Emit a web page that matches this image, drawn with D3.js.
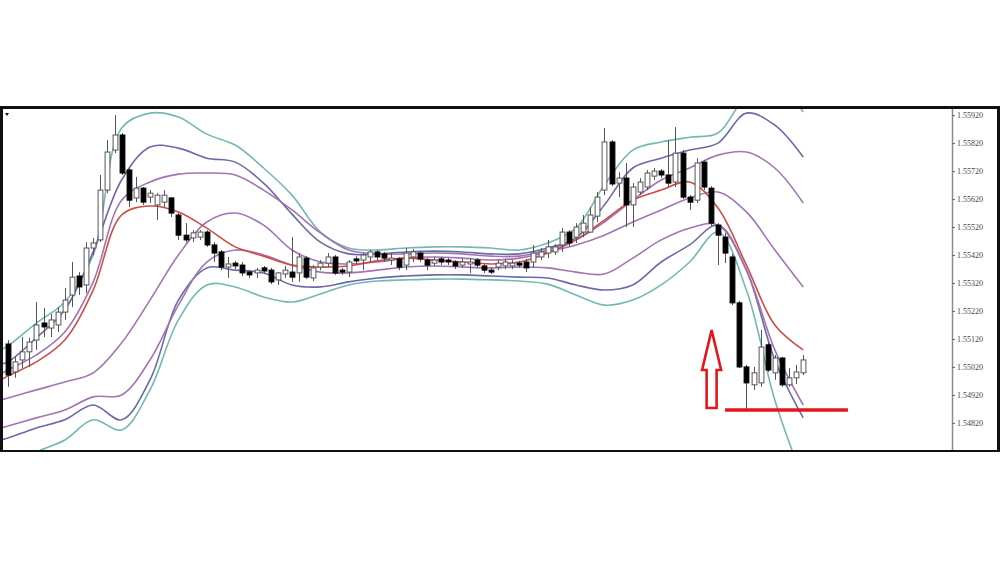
<!DOCTYPE html>
<html><head><meta charset="utf-8">
<script src="https://cdn.jsdelivr.net/npm/d3@7"></script>
<style>body{margin:0;background:#fff}svg{display:block}</style>
</head><body>
<svg id="c" width="1000" height="562"></svg>
<script>
// ---- candle data (bar index 0..112) ----
const opens = [1.55102,1.55002,1.55045,1.55074,1.55116,1.55177,1.55159,1.55170,1.55216,1.55277,1.55345,1.55313,1.55445,1.55474,1.55652,1.55795,1.55849,1.55724,1.55624,1.55659,1.55627,1.55599,1.55609,1.55624,1.55563,1.55491,1.55481,1.55484,1.55502,1.55456,1.55431,1.55377,1.55391,1.55384,1.55359,1.55356,1.55374,1.55366,1.55331,1.55352,1.55359,1.55356,1.55409,1.55338,1.55377,1.55391,1.55413,1.55366,1.55359,1.55406,1.55402,1.55413,1.55431,1.55424,1.55402,1.55406,1.55384,1.55413,1.55427,1.55402,1.55391,1.55406,1.55402,1.55395,1.55384,1.55388,1.55402,1.55381,1.55366,1.55377,1.55381,1.55381,1.55391,1.55395,1.55395,1.55413,1.55427,1.55431,1.55456,1.55502,1.55484,1.55502,1.55502,1.55559,1.55652,1.55824,1.55677,1.55695,1.55599,1.55645,1.55663,1.55702,1.55720,1.55706,1.55681,1.55784,1.55627,1.55616,1.55752,1.55659,1.55527,1.55484,1.55413,1.55249,1.55020,1.54956,1.54963,1.55099,1.54999,1.55052,1.54956,1.54981,1.54999];
const highs = [1.55116,1.55056,1.55127,1.55124,1.55252,1.55231,1.55209,1.55234,1.55302,1.55395,1.55359,1.55466,1.55481,1.55706,1.55831,1.55920,1.55856,1.55731,1.55699,1.55663,1.55652,1.55641,1.55652,1.55627,1.55570,1.55534,1.55509,1.55509,1.55509,1.55466,1.55438,1.55413,1.55399,1.55395,1.55366,1.55374,1.55381,1.55374,1.55359,1.55381,1.55484,1.55427,1.55416,1.55384,1.55402,1.55427,1.55420,1.55374,1.55402,1.55416,1.55427,1.55438,1.55438,1.55431,1.55427,1.55413,1.55445,1.55441,1.55434,1.55409,1.55413,1.55413,1.55409,1.55402,1.55406,1.55409,1.55409,1.55388,1.55374,1.55402,1.55406,1.55402,1.55399,1.55406,1.55456,1.55445,1.55474,1.55459,1.55516,1.55509,1.55534,1.55563,1.55591,1.55645,1.55874,1.55831,1.55716,1.55749,1.55677,1.55695,1.55724,1.55731,1.55727,1.55831,1.55877,1.55795,1.55634,1.55766,1.55759,1.55666,1.55534,1.55499,1.55424,1.55256,1.55027,1.55020,1.55152,1.55106,1.55063,1.55056,1.55016,1.55027,1.55063];
const lows = [1.54949,1.54981,1.55016,1.55020,1.55081,1.55127,1.55127,1.55145,1.55188,1.55234,1.55277,1.55284,1.55420,1.55466,1.55641,1.55784,1.55706,1.55591,1.55609,1.55599,1.55606,1.55545,1.55591,1.55556,1.55474,1.55466,1.55466,1.55474,1.55449,1.55395,1.55366,1.55338,1.55370,1.55345,1.55338,1.55338,1.55352,1.55316,1.55313,1.55338,1.55324,1.55324,1.55334,1.55327,1.55366,1.55377,1.55349,1.55349,1.55341,1.55388,1.55366,1.55395,1.55402,1.55395,1.55384,1.55366,1.55366,1.55395,1.55395,1.55366,1.55381,1.55384,1.55384,1.55370,1.55374,1.55356,1.55374,1.55356,1.55352,1.55366,1.55370,1.55370,1.55374,1.55359,1.55374,1.55402,1.55409,1.55420,1.55431,1.55452,1.55463,1.55484,1.55499,1.55538,1.55634,1.55666,1.55627,1.55520,1.55520,1.55634,1.55652,1.55688,1.55695,1.55663,1.55663,1.55620,1.55581,1.55606,1.55652,1.55524,1.55384,1.55391,1.55241,1.55016,1.54866,1.54938,1.54949,1.55002,1.54974,1.54949,1.54949,1.54959,1.54991];
const closes = [1.54991,1.55038,1.55074,1.55109,1.55170,1.55163,1.55188,1.55216,1.55259,1.55341,1.55306,1.55445,1.55463,1.55652,1.55788,1.55849,1.55713,1.55616,1.55659,1.55609,1.55641,1.55634,1.55634,1.55570,1.55491,1.55474,1.55499,1.55502,1.55456,1.55427,1.55377,1.55388,1.55381,1.55356,1.55349,1.55366,1.55363,1.55324,1.55356,1.55366,1.55341,1.55413,1.55341,1.55374,1.55391,1.55413,1.55356,1.55359,1.55395,1.55399,1.55420,1.55431,1.55413,1.55409,1.55409,1.55377,1.55427,1.55431,1.55406,1.55384,1.55402,1.55395,1.55395,1.55381,1.55395,1.55395,1.55384,1.55366,1.55359,1.55391,1.55395,1.55391,1.55384,1.55374,1.55427,1.55431,1.55449,1.55449,1.55502,1.55463,1.55520,1.55534,1.55563,1.55627,1.55824,1.55674,1.55695,1.55599,1.55663,1.55681,1.55713,1.55720,1.55706,1.55677,1.55784,1.55627,1.55609,1.55749,1.55663,1.55534,1.55491,1.55427,1.55249,1.55020,1.54963,1.54999,1.55091,1.55009,1.55052,1.54956,1.54981,1.55002,1.55045];

// ---- band lines, sampled at these bar indices ----
const bandIdx = [-1,0,4,8,12,16,20,24,28,32,36,40,44,48,52,56,60,64,68,72,76,80,84,88,92,96,100,104,108,112];
const midLine   = [1.54974,1.54988,1.55038,1.55116,1.55295,1.55563,1.55595,1.55574,1.55516,1.55449,1.55416,1.55384,1.55377,1.55381,1.55399,1.55409,1.55402,1.55395,1.55388,1.55395,1.55427,1.55474,1.55545,1.55616,1.55652,1.55681,1.55588,1.55384,1.55170,1.55081];
const upperTeal = [1.55081,1.55095,1.55177,1.55252,1.55420,1.55874,1.55927,1.55913,1.55852,1.55813,1.55731,1.55634,1.55502,1.55445,1.55438,1.55445,1.55449,1.55449,1.55445,1.55438,1.55463,1.55516,1.55670,1.55795,1.55824,1.55841,1.55856,1.55991,1.56045,1.55931];
const upperSlate= [1.55031,1.55038,1.55124,1.55224,1.55431,1.55688,1.55806,1.55802,1.55766,1.55752,1.55677,1.55566,1.55466,1.55424,1.55424,1.55431,1.55434,1.55431,1.55424,1.55424,1.55445,1.55481,1.55599,1.55731,1.55766,1.55795,1.55820,1.55927,1.55884,1.55770];
const upperPurple=[1.54995,1.55009,1.55063,1.55145,1.55324,1.55616,1.55681,1.55709,1.55713,1.55706,1.55652,1.55581,1.55499,1.55438,1.55424,1.55424,1.55427,1.55424,1.55416,1.55416,1.55438,1.55474,1.55538,1.55616,1.55688,1.55731,1.55777,1.55788,1.55731,1.55606];
const slowPurple= [1.54902,1.54909,1.54938,1.54966,1.54999,1.55106,1.55259,1.55420,1.55538,1.55570,1.55527,1.55438,1.55395,1.55388,1.55395,1.55409,1.55413,1.55409,1.55402,1.55409,1.55431,1.55456,1.55491,1.55538,1.55581,1.55624,1.55645,1.55574,1.55438,1.55306];
const lowerPurple=[1.54802,1.54809,1.54838,1.54866,1.54913,1.54920,1.55045,1.55241,1.55395,1.55438,1.55420,1.55384,1.55359,1.55356,1.55366,1.55377,1.55381,1.55377,1.55374,1.55377,1.55374,1.55359,1.55352,1.55409,1.55474,1.55516,1.55527,1.55366,1.55081,1.54884];
const lowerSlate= [1.54759,1.54766,1.54802,1.54831,1.54884,1.54831,1.54974,1.55259,1.55374,1.55366,1.55356,1.55313,1.55306,1.55324,1.55338,1.55345,1.55349,1.55349,1.55345,1.55341,1.55338,1.55313,1.55295,1.55313,1.55395,1.55456,1.55527,1.55366,1.55045,1.54838];
const lowerTeal = [1.54652,1.54666,1.54716,1.54759,1.54831,1.54795,1.54938,1.55188,1.55313,1.55306,1.55270,1.55252,1.55281,1.55313,1.55327,1.55331,1.55334,1.55334,1.55331,1.55327,1.55316,1.55277,1.55241,1.55259,1.55313,1.55395,1.55502,1.55295,1.54902,1.54616];

// ---- axis ----
const tickValues = [1.55920,1.55820,1.55720,1.55620,1.55520,1.55420,1.55320,1.55220,1.55120,1.55020,1.54920,1.54820];
const priceMin = 1.54716, priceMax = 1.55949;

// ---- annotations ----
const supportLevel = 1.54866;
const supportFrom = 101, supportTo = 118.3;
const arrowBar = 99.1, arrowTip = 1.55152, arrowBase = 1.54873;

const svg = d3.select("#c");
const L = 3, R = 951, T = 109, B = 450;
const x = d3.scaleLinear().domain([0, 112]).range([8, 803.2]);
const y = d3.scaleLinear().domain([priceMin, priceMax]).range([452, 107]);

svg.append("rect").attr("width",1000).attr("height",562).attr("fill","#fff");
svg.append("clipPath").attr("id","clip").append("rect").attr("x",L).attr("y",T).attr("width",R-L).attr("height",B-T);
const plot = svg.append("g").attr("clip-path","url(#clip)");

// bands
const bands = [
  [lowerTeal,"#74b8b3"],[upperTeal,"#74b8b3"],
  [lowerSlate,"#6b6aa6"],[upperSlate,"#6b6aa6"],
  [lowerPurple,"#a274b4"],[upperPurple,"#a274b4"],
  [slowPurple,"#a274b4"],
  [midLine,"#cf4d46"]
];
const line = d3.line().x(d=>x(d[0])).y(d=>y(d[1])).curve(d3.curveCatmullRom.alpha(0.5));
bands.forEach(([vals,col])=>{
  plot.append("path").datum(bandIdx.map((b,i)=>[b,vals[i]]))
    .attr("d",line).attr("fill","none").attr("stroke",col).attr("stroke-width",1.6);
});

// candles
const bars = d3.range(opens.length);
const bw = 4.8;
const cg = plot.append("g");
cg.selectAll("line.w").data(bars).join("line")
  .attr("x1",i=>Math.round(x(i))+0.5).attr("x2",i=>Math.round(x(i))+0.5)
  .attr("y1",i=>y(highs[i])).attr("y2",i=>y(lows[i]))
  .attr("stroke","#555").attr("stroke-width",1);
cg.selectAll("rect.b").data(bars).join("rect")
  .attr("x",i=>Math.round(x(i))+0.5-bw/2)
  .attr("y",i=>y(Math.max(opens[i],closes[i])))
  .attr("width",bw)
  .attr("height",i=>Math.max(1.5, Math.abs(y(opens[i])-y(closes[i]))))
  .attr("fill",i=>closes[i]>=opens[i]?"#fff":"#000")
  .attr("stroke",i=>closes[i]>=opens[i]?"#555":"#000").attr("stroke-width",1);

// annotations
svg.append("line").attr("x1",x(supportFrom)).attr("x2",x(supportTo))
  .attr("y1",y(supportLevel)).attr("y2",y(supportLevel))
  .attr("stroke","#e3161b").attr("stroke-width",3.5);
{
  const ax = x(arrowBar), ty = y(arrowTip), by = y(arrowBase);
  const headH = 40, headW = 9.5, shaftW = 5;
  const p = [[ax,ty],[ax+headW,ty+headH],[ax+shaftW,ty+headH],[ax+shaftW,by],[ax-shaftW,by],[ax-shaftW,ty+headH],[ax-headW,ty+headH]];
  svg.append("path").attr("d","M"+p.map(d=>d.join(",")).join("L")+"Z")
    .attr("fill","#fff").attr("stroke","#e3161b").attr("stroke-width",2.6).attr("stroke-linejoin","miter");
}

// frame
svg.append("rect").attr("x",0).attr("y",106).attr("width",1000).attr("height",3).attr("fill","#111");
svg.append("rect").attr("x",0).attr("y",106).attr("width",3).attr("height",346).attr("fill","#111");
svg.append("rect").attr("x",0).attr("y",450).attr("width",1000).attr("height",2).attr("fill","#111");
svg.append("rect").attr("x",997).attr("y",106).attr("width",3).attr("height",346).attr("fill","#111");
// corner marker
svg.append("path").attr("d","M5,113 L9,113 L7,116 Z").attr("fill","#111");

// right axis
const axis = d3.axisRight(y).tickValues(tickValues).tickSize(3).tickPadding(2).tickFormat(d3.format(".5f"));
const ag = svg.append("g").attr("transform","translate(952,0)").call(axis);
ag.select(".domain").attr("stroke","#8a8a8a").attr("stroke-width",1.5).attr("d","M0.5,109V450");
ag.selectAll(".tick line").attr("stroke","#666");
ag.selectAll(".tick text").attr("fill","#444").attr("font-family","Liberation Serif, serif").attr("font-size",8);
</script>
</body></html>
